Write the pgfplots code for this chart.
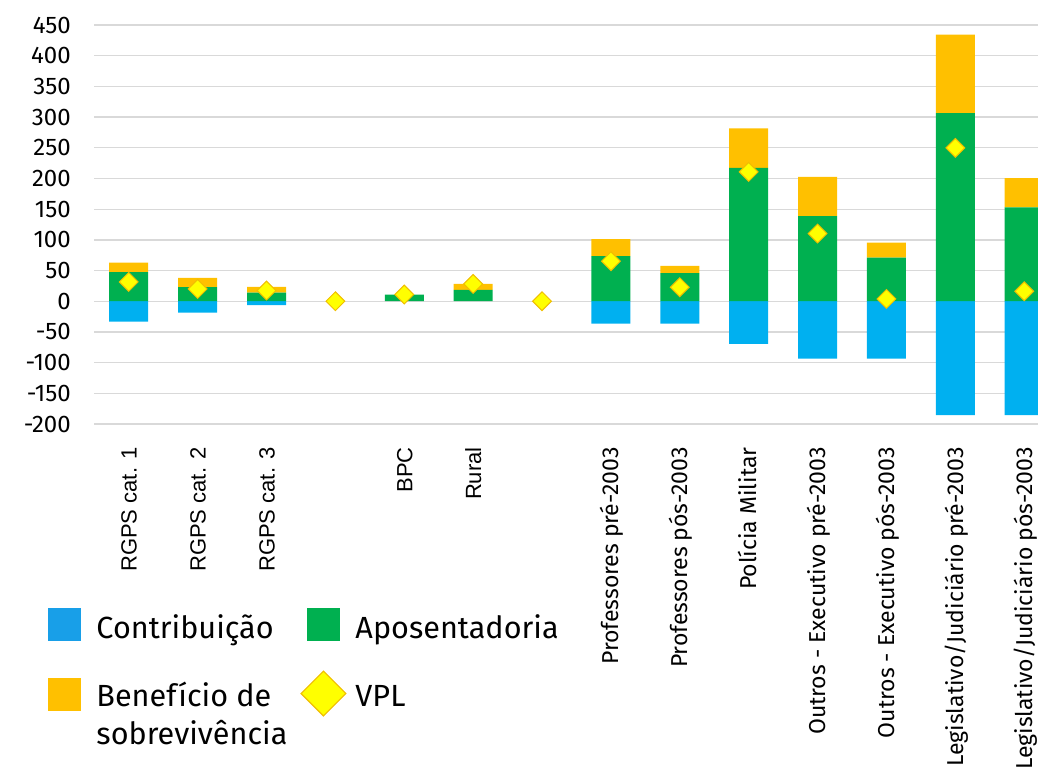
\documentclass[border=0pt]{standalone}
\usepackage{fontspec}
\setmainfont{Fira Sans}
\newfontfamily\arial{Liberation Sans}
\usepackage{pgfplots}
\pgfplotsset{compat=1.18}
\definecolor{cblue}{HTML}{00B0F0}
\definecolor{cgreen}{HTML}{00B050}
\definecolor{cgold}{HTML}{FFC000}
\definecolor{cyel}{HTML}{FFFF00}
\definecolor{cdiam}{HTML}{F0BE00}
\definecolor{legblue}{HTML}{189FE8}
\definecolor{cgrid}{HTML}{D9D9D9}
\newcommand{\ar}[1]{{\arial\fontsize{11}{13}\selectfont #1}}
\pgfplotsset{base/.style={width=471.85pt, height=199.5pt, scale only axis,
  at={(47.15pt,177pt)}, anchor=south west,
  xmin=-0.5, xmax=13.2, ymin=-200, ymax=450}}

\begin{document}
\begin{tikzpicture}
% grid, labels, legend and the negative part (contribution)
\begin{axis}[base, ybar, bar width=19.5pt,
  axis line style={draw=none}, major tick length=0pt,
  ymajorgrids, grid style={draw=cgrid, line width=0.65pt},
  ytick={-200,-150,...,450},
  xtick={0,...,13},
  xticklabels={\ar{RGPS cat. 1},\ar{RGPS cat. 2},\ar{RGPS cat. 3},{},\ar{BPC},\ar{Rural},{},
    Professores pré-2003,Professores pós-2003,Polícia Militar,
    Outros - Executivo pré-2003,Outros - Executivo pós-2003,
    Legislativo/Judiciário pré-2003,Legislativo/Judiciário pós-2003},
  /pgf/number format/assume math mode=true,
  yticklabel style={font=\fontsize{12}{14}\selectfont, anchor=east, inner sep=0pt, xshift=-11.6pt},
  xticklabel style={font=\fontsize{11.5}{13}\selectfont, yshift=-11.5pt, rotate=90, anchor=east,
    inner sep=0pt, text height=8pt, text depth=0pt},
  legend columns=2, legend cell align=left,
  legend style={at={(-0.0491,-0.4612)}, anchor=north west, draw=none, fill=none,
    inner sep=0pt, row sep=17.5pt, column sep=0pt, font=\fontsize{15.3}{19}\selectfont,
    nodes={anchor=base west, inner sep=0pt, text height=15pt, text depth=1pt},
    /tikz/every even column/.append style={column sep=10pt}},
]
\addplot[fill=cblue, draw=none, bar shift=0pt, forget plot] coordinates {(0,-33.2) (1,-18.4) (2,-6.5) (7,-36.3) (8,-36.3) (9,-69.6) (10,-93.4) (11,-93.4) (12,-185.7) (13,-185.7)};
\addlegendimage{legend image code/.code={\path[draw=none, fill=none] (0pt,-1pt) rectangle (23.85pt,15pt); \fill[legblue] (0pt,-1pt) rectangle (16pt,15pt);}}
\addlegendentry{Contribuição}
\addlegendimage{legend image code/.code={\path[draw=none, fill=none] (0pt,-1pt) rectangle (23.85pt,15pt); \fill[cgreen] (0pt,-1pt) rectangle (16pt,15pt);}}
\addlegendentry{Aposentadoria}
\addlegendimage{legend image code/.code={\path[draw=none, fill=none] (0pt,-1pt) rectangle (23.85pt,15pt); \fill[cgold] (0pt,-2pt) rectangle (16pt,14pt);}}
\addlegendentry{\begin{tabular}[t]{@{}l@{}}Benefício de\\sobrevivência\end{tabular}}
\addlegendimage{legend image code/.code={\path[draw=none, fill=none] (0pt,-1pt) rectangle (23.85pt,15pt); \draw[overlay, fill=cyel, draw=cdiam, line width=0.6pt] (7.85pt,-4.85pt) -- (19.05pt,6.35pt) -- (7.85pt,17.55pt) -- (-3.35pt,6.35pt) -- cycle;}}
\addlegendentry{VPL}
\end{axis}

% positive stack: aposentadoria + beneficio de sobrevivencia
\begin{axis}[base, hide axis, ybar stacked, bar width=19.5pt]
\addplot[fill=cgreen, draw=none] coordinates {(0,47.3) (1,22.8) (2,14.2) (4,10.9) (5,18.4) (7,73.3) (8,45.6) (9,217.2) (10,138.5) (11,71.2) (12,306.3) (13,153.1)};
\addplot[fill=cgold, draw=none] coordinates {(0,15.7) (1,15.2) (2,9.1) (4,0) (5,9.8) (7,27.7) (8,11.9) (9,64.2) (10,64.0) (11,24.4) (12,128.2) (13,47.3)};
\end{axis}

% VPL
\begin{axis}[base, hide axis, clip=false]
\addplot[only marks, mark=diamond*, mark size=4.7pt,
  mark options={fill=cyel, draw=cdiam, line width=0.5pt, xscale=1.333}]
  coordinates {(0,31.5) (1,20) (2,17.4) (3,0) (4,10.9) (5,28.2) (6,0) (7,65.2) (8,22.8) (9,210.7) (10,110.3) (11,3.8) (12,249.8) (13,16.3)};
\end{axis}
\pgfresetboundingbox
\path (0,0) rectangle (519pt,389pt);
\end{tikzpicture}
\end{document}
